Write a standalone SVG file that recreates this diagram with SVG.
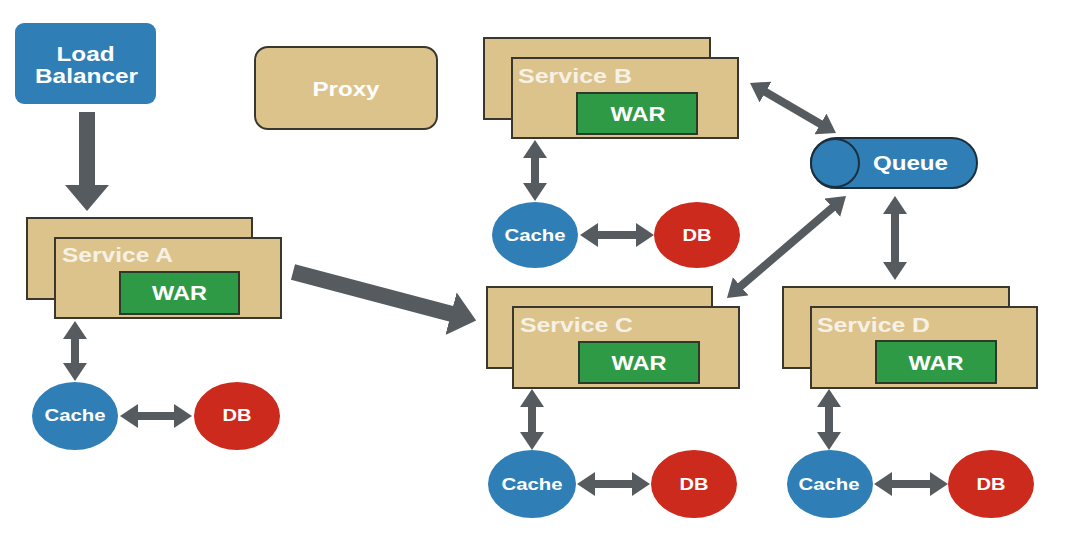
<svg xmlns="http://www.w3.org/2000/svg" width="1065" height="550" viewBox="0 0 1065 550">
<defs>
<style>
.bg{fill:#ffffff}
.tan{fill:#dcc38c;stroke:#3a372e;stroke-width:2}
.war{fill:#2f9a46;stroke:#2b3a2a;stroke-width:2}
.blue{fill:#2f7fb6}
.red{fill:#cc2a1d}
.t{font-family:"Liberation Sans",Arial,sans-serif;font-weight:bold;fill:#ffffff}
.svc{font-size:21px;fill:#f6f1e4}
.lbl{font-size:20px}
.sm{font-size:17px}
.c{text-anchor:middle}
.ar{stroke:#565b60;stroke-width:8;fill:none}
.big{stroke:#565b60;stroke-width:16;fill:none}
</style>
<marker id="h" markerUnits="userSpaceOnUse" markerWidth="18" markerHeight="24" viewBox="0 0 18 24" refX="1" refY="12" orient="auto-start-reverse">
<path d="M0,0 L18,12 L0,24 z" fill="#565b60"/>
</marker>
<marker id="hb" markerUnits="userSpaceOnUse" markerWidth="26" markerHeight="44" viewBox="0 0 26 44" refX="1" refY="22" orient="auto">
<path d="M0,0 L26,22 L0,44 z" fill="#565b60"/>
</marker>
</defs>
<rect class="bg" x="0" y="0" width="1065" height="550"/>

<g id="connectors">
<line class="big" x1="87" y1="112" x2="87" y2="186" marker-end="url(#hb)"/>
<line class="big" x1="293" y1="272" x2="452" y2="314" marker-end="url(#hb)"/>
<line class="ar" x1="75" y1="338" x2="75" y2="364" marker-start="url(#h)" marker-end="url(#h)"/>
<line class="ar" x1="137" y1="416" x2="175" y2="416" marker-start="url(#h)" marker-end="url(#h)"/>
<line class="ar" x1="535" y1="157" x2="535" y2="184" marker-start="url(#h)" marker-end="url(#h)"/>
<line class="ar" x1="597" y1="235" x2="637" y2="235" marker-start="url(#h)" marker-end="url(#h)"/>
<line class="ar" x1="532" y1="406" x2="532" y2="433" marker-start="url(#h)" marker-end="url(#h)"/>
<line class="ar" x1="594" y1="484" x2="633" y2="484" marker-start="url(#h)" marker-end="url(#h)"/>
<line class="ar" x1="829" y1="406" x2="829" y2="433" marker-start="url(#h)" marker-end="url(#h)"/>
<line class="ar" x1="891" y1="484" x2="931" y2="484" marker-start="url(#h)" marker-end="url(#h)"/>
<line class="ar" x1="764.7" y1="91.5" x2="821.3" y2="124.5" marker-start="url(#h)" marker-end="url(#h)"/>
<line class="ar" x1="739.9" y1="286.9" x2="833.1" y2="207.1" marker-start="url(#h)" marker-end="url(#h)"/>
<line class="ar" x1="895" y1="213" x2="895" y2="263" marker-start="url(#h)" marker-end="url(#h)"/>
</g>

<g id="load-balancer">
<rect class="blue" x="15" y="23" width="141" height="81" rx="9"/>
<text class="t lbl c" x="85.5" y="61" textLength="58" lengthAdjust="spacingAndGlyphs">Load</text>
<text class="t lbl c" x="86.5" y="83" textLength="103" lengthAdjust="spacingAndGlyphs">Balancer</text>
</g>

<g id="proxy">
<rect class="tan" x="255" y="47" width="182" height="82" rx="13"/>
<text class="t lbl c" x="346" y="96" textLength="67" lengthAdjust="spacingAndGlyphs">Proxy</text>
</g>

<g id="service-a">
<rect class="tan" x="27" y="218" width="225" height="81"/>
<rect class="tan" x="55" y="238" width="226" height="80"/>
<text class="t svc" x="62" y="262" textLength="111" lengthAdjust="spacingAndGlyphs">Service A</text>
<rect class="war" x="120" y="272" width="119" height="42"/>
<text class="t lbl c" x="179.5" y="300" textLength="55" lengthAdjust="spacingAndGlyphs">WAR</text>
</g>
<g id="cache-a">
<ellipse class="blue" cx="75" cy="416" rx="43" ry="34"/>
<text class="t sm c" x="75" y="421" textLength="61" lengthAdjust="spacingAndGlyphs">Cache</text>
</g>
<g id="db-a">
<ellipse class="red" cx="237" cy="416" rx="43" ry="34"/>
<text class="t sm c" x="237" y="421" textLength="29" lengthAdjust="spacingAndGlyphs">DB</text>
</g>

<g id="service-b">
<rect class="tan" x="484" y="38" width="226" height="81"/>
<rect class="tan" x="512" y="58" width="226" height="80"/>
<text class="t svc" x="518" y="83" textLength="114" lengthAdjust="spacingAndGlyphs">Service B</text>
<rect class="war" x="577" y="93" width="120" height="41"/>
<text class="t lbl c" x="638" y="121" textLength="55" lengthAdjust="spacingAndGlyphs">WAR</text>
</g>
<g id="cache-b">
<ellipse class="blue" cx="535" cy="235" rx="43" ry="33"/>
<text class="t sm c" x="535" y="241" textLength="61" lengthAdjust="spacingAndGlyphs">Cache</text>
</g>
<g id="db-b">
<ellipse class="red" cx="697" cy="235" rx="43" ry="33"/>
<text class="t sm c" x="697" y="241" textLength="29" lengthAdjust="spacingAndGlyphs">DB</text>
</g>

<g id="queue">
<rect class="blue" x="811" y="138" width="166" height="50" rx="25" stroke="#1c2f3d" stroke-width="2"/>
<circle class="blue" cx="835" cy="163" r="24" stroke="#1c2f3d" stroke-width="2"/>
<text class="t lbl c" x="910.5" y="170" textLength="75" lengthAdjust="spacingAndGlyphs">Queue</text>
</g>

<g id="service-c">
<rect class="tan" x="487" y="287" width="225" height="81"/>
<rect class="tan" x="513" y="307" width="226" height="81"/>
<text class="t svc" x="520" y="332" textLength="113" lengthAdjust="spacingAndGlyphs">Service C</text>
<rect class="war" x="579" y="342" width="120" height="41"/>
<text class="t lbl c" x="639" y="370" textLength="55" lengthAdjust="spacingAndGlyphs">WAR</text>
</g>
<g id="cache-c">
<ellipse class="blue" cx="532" cy="484" rx="44" ry="34"/>
<text class="t sm c" x="532" y="490" textLength="61" lengthAdjust="spacingAndGlyphs">Cache</text>
</g>
<g id="db-c">
<ellipse class="red" cx="694" cy="484" rx="43" ry="34"/>
<text class="t sm c" x="694" y="490" textLength="29" lengthAdjust="spacingAndGlyphs">DB</text>
</g>

<g id="service-d">
<rect class="tan" x="783" y="287" width="226" height="81"/>
<rect class="tan" x="811" y="307" width="226" height="81"/>
<text class="t svc" x="817" y="332" textLength="113" lengthAdjust="spacingAndGlyphs">Service D</text>
<rect class="war" x="876" y="341" width="120" height="42"/>
<text class="t lbl c" x="936" y="370" textLength="55" lengthAdjust="spacingAndGlyphs">WAR</text>
</g>
<g id="cache-d">
<ellipse class="blue" cx="830" cy="484" rx="43" ry="34"/>
<text class="t sm c" x="829" y="490" textLength="61" lengthAdjust="spacingAndGlyphs">Cache</text>
</g>
<g id="db-d">
<ellipse class="red" cx="991" cy="484" rx="43" ry="34"/>
<text class="t sm c" x="991" y="490" textLength="29" lengthAdjust="spacingAndGlyphs">DB</text>
</g>
</svg>
